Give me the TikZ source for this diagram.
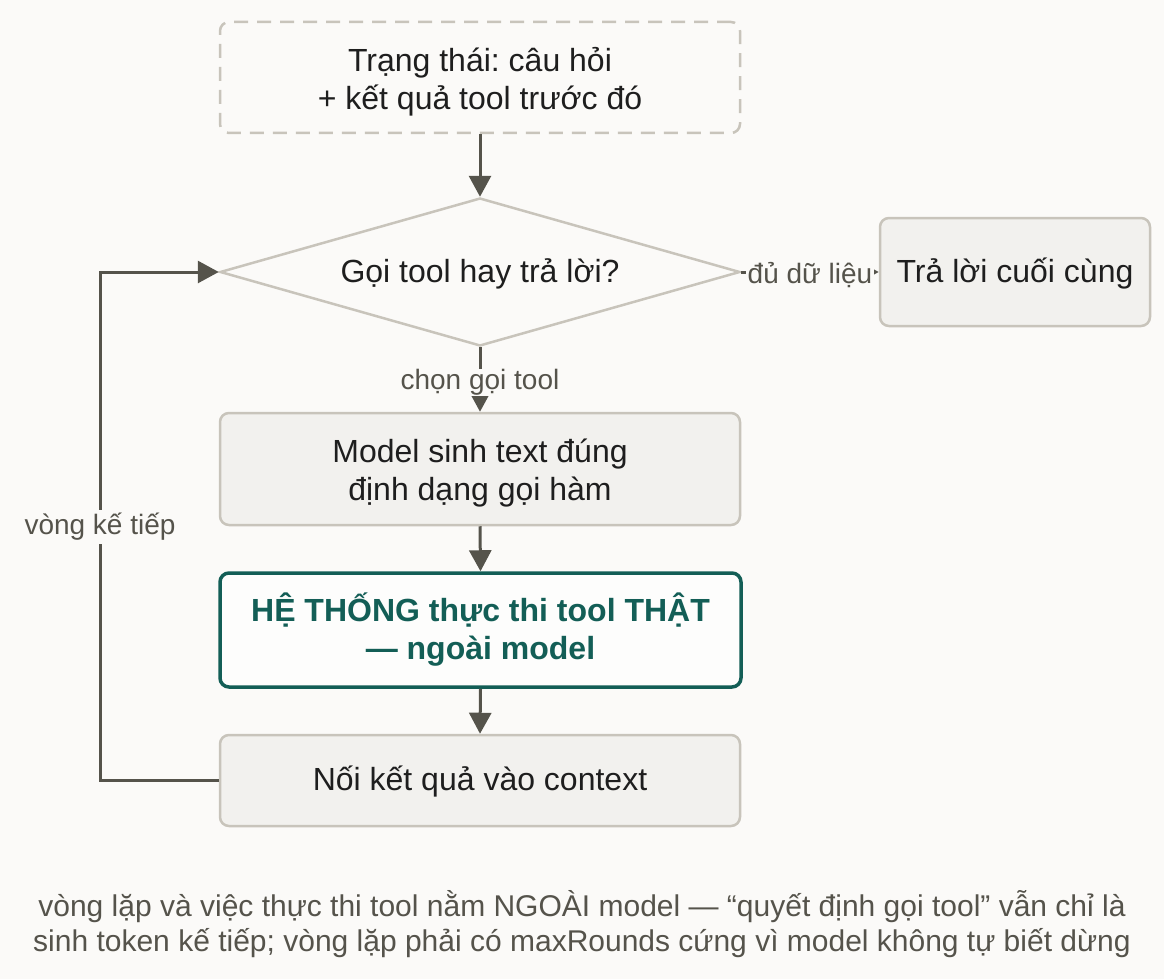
\documentclass[tikz,border=0pt]{standalone}
\usepackage{fontspec}
\setmainfont{Liberation Sans}
\frenchspacing
\usetikzlibrary{shapes.geometric,arrows.meta}
\definecolor{pagebg}{HTML}{FBFAF8}
\definecolor{boxfill}{HTML}{F2F1EE}
\definecolor{boxline}{HTML}{C8C4BB}
\definecolor{arrowc}{HTML}{55534B}
\definecolor{textc}{HTML}{1E1E1E}
\definecolor{labelc}{HTML}{55534B}
\definecolor{tealc}{HTML}{135E56}
\definecolor{tealfill}{HTML}{FDFDFC}
\newcommand{\lowertext}[2]{\raisebox{-#1}[\height][\depth]{\setlength{\tabcolsep}{0pt}\begin{tabular}{c}#2\end{tabular}}}
\tikzset{
  x=1pt, y=-1pt,
  boxnode/.style={draw=boxline, fill=boxfill, line width=2.5pt, rounded corners=9pt,
    align=center, text=textc, inner sep=0pt, font=\fontsize{32}{38}\selectfont},
  dashbox/.style={boxnode, fill=pagebg, dash pattern=on 14pt off 9pt},
  tealbox/.style={draw=tealc, fill=tealfill, line width=3.5pt, rounded corners=9pt,
    align=center, text=tealc, inner sep=0pt, font=\fontsize{32}{38}\selectfont\bfseries},
  decision/.style={diamond, aspect=3.51, draw=boxline, fill=pagebg, line width=2.5pt, inner sep=0pt,
    align=center, text=textc, font=\fontsize{32}{38}\selectfont},
  flow/.style={draw=arrowc, line width=3pt, -{Triangle[length=21pt,width=22pt]}},
  flowlabel/.style={fill=pagebg, text=labelc, inner xsep=2pt, inner ysep=3pt, font=\fontsize{28}{34}\selectfont},
  note/.style={text=labelc, align=center, font=\fontsize{30}{35}\selectfont},
}
\begin{document}
\begin{tikzpicture}
\fill[pagebg] (0,0) rectangle (1164,979);
\useasboundingbox (0,0) rectangle (1164,979);

\node[dashbox, minimum width=520pt, minimum height=111pt] (state) at (480,77.5)
  {\lowertext{5pt}{Trạng thái: câu hỏi\\+ kết quả tool trước đó}};
\node[decision, minimum width=520pt, minimum height=148pt] (dec) at (480,272)
  {\lowertext{3pt}{Gọi tool hay trả lời?}};
\node[boxnode, minimum width=270pt, minimum height=108pt] (final) at (1015,272)
  {\lowertext{3pt}{Trả lời cuối cùng}};
\node[boxnode, minimum width=520pt, minimum height=112pt] (gen) at (480,469)
  {\lowertext{5pt}{Model sinh text đúng\\định dạng gọi hàm}};
\node[tealbox, minimum width=521pt, minimum height=114pt] (exec) at (480.5,630)
  {\lowertext{2pt}{HỆ THỐNG thực thi tool THẬT\\— ngoài model}};
\node[boxnode, minimum width=520pt, minimum height=91pt] (append) at (480,780.5)
  {\lowertext{2pt}{Nối kết quả vào context}};

\draw[flow] (state.south) -- (dec.north);
\draw[flow] (dec.east) -- (final.west) node[flowlabel, midway, yshift=-3pt] (lblA) {đủ dữ liệu};
\draw[flow] (dec.south) -- (gen.north) node[flowlabel, inner ysep=0pt, midway, yshift=-3pt] (lblB) {chọn gọi tool};
\draw[flow] (gen.south) -- (exec.north);
\draw[flow] (exec.south) -- (append.north);
\coordinate (lb) at (100,780.5);
\coordinate (lt) at (100,272);
\draw[flow] (append.west) -- (lb) -- (lt) -- (dec.west);
\node[flowlabel] (lblC) at (100,527) {vòng kế tiếp};

\node[note] (foot) at (582,924.5)
  {vòng lặp và việc thực thi tool nằm NGOÀI model — “quyết định gọi tool” vẫn chỉ là\\
   sinh token kế tiếp; vòng lặp phải có maxRounds cứng vì model không tự biết dừng};
\end{tikzpicture}
\end{document}
